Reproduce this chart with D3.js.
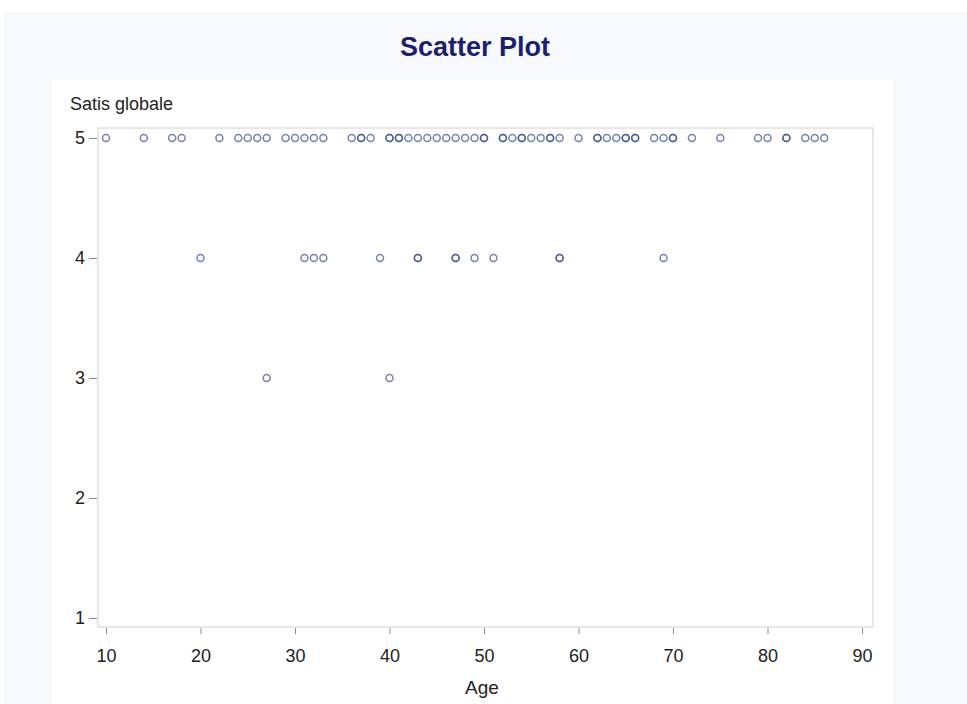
<!DOCTYPE html>
<html>
<head>
<meta charset="utf-8">
<script src="https://cdn.jsdelivr.net/npm/d3@7"></script>
<style>
  body { margin: 0; background: #fff; }
  text { font-family: "Liberation Sans", Arial, sans-serif; }
</style>
</head>
<body>
<div id="chart"></div>
<script>
// ages, one array per satisfaction level
var age5 = [10, 14, 17, 18, 22, 24, 25, 26, 27, 29, 30, 31, 32, 33, 36, 37, 37, 38,
  40, 40, 41, 41, 42, 43, 44, 45, 46, 47, 48, 49, 50, 50, 52, 52, 53, 54, 54, 55, 56,
  57, 57, 58, 60, 62, 62, 63, 64, 65, 65, 66, 66, 68, 69, 70, 70, 72, 75, 79, 80,
  82, 82, 84, 85, 86];
var age4 = [20, 31, 32, 33, 39, 43, 43, 47, 47, 49, 51, 58, 58, 69];
var age3 = [27, 40];
var xTicks = [10, 20, 30, 40, 50, 60, 70, 80, 90];
var yTicks = [1, 2, 3, 4, 5];

var points = []
  .concat(age5.map(a => ({ age: a, satis: 5 })))
  .concat(age4.map(a => ({ age: a, satis: 4 })))
  .concat(age3.map(a => ({ age: a, satis: 3 })));

var width = 967;
var height = 704;
var plot = { left: 98, right: 873, top: 128, bottom: 627 };

var svg = d3.select("#chart")
  .append("svg")
  .attr("width", width)
  .attr("height", height);

// backgrounds
svg.append("rect")
  .attr("x", 4).attr("y", 12)
  .attr("width", width - 4).attr("height", height - 12)
  .attr("fill", "#f8f9fd");
svg.append("rect")
  .attr("x", 52).attr("y", 80)
  .attr("width", 841).attr("height", height - 80)
  .attr("fill", "#ffffff");

var x = d3.scaleLinear()
  .domain([10 - 8 / 9.45, 90 + 11 / 9.45])
  .range([plot.left, plot.right]);
var y = d3.scaleLinear()
  .domain([1 - 9 / 120, 5 + 10 / 120])
  .range([plot.bottom, plot.top]);

// title
svg.append("text")
  .attr("x", 475).attr("y", 56)
  .attr("text-anchor", "middle")
  .attr("font-size", "27px")
  .attr("font-weight", "bold")
  .attr("fill", "#1c1f6e")
  .text("Scatter Plot");

// frame
svg.append("rect")
  .attr("x", plot.left).attr("y", plot.top)
  .attr("width", plot.right - plot.left)
  .attr("height", plot.bottom - plot.top)
  .attr("fill", "none")
  .attr("stroke", "#cfcfcf")
  .attr("stroke-width", 1);

// axes
var xAxis = svg.append("g")
  .attr("transform", "translate(0," + (plot.bottom + 1) + ")")
  .call(d3.axisBottom(x).tickValues(xTicks).tickSize(6).tickPadding(15).tickFormat(d3.format("d")));
var yAxis = svg.append("g")
  .attr("transform", "translate(" + (plot.left - 1) + ",0)")
  .call(d3.axisLeft(y).tickValues(yTicks).tickSize(8).tickPadding(4).tickFormat(d3.format("d")));

[xAxis, yAxis].forEach(function (g) {
  g.select(".domain").remove();
  g.selectAll(".tick line").attr("stroke", "#8a8a8a");
  g.selectAll(".tick text")
    .attr("font-size", "18px")
    .attr("fill", "#222")
    .attr("font-family", "Liberation Sans, Arial, sans-serif");
});

// axis labels
svg.append("text")
  .attr("x", 70).attr("y", 110)
  .attr("font-size", "18px")
  .attr("fill", "#222")
  .text("Satis globale");
svg.append("text")
  .attr("x", 482).attr("y", 694)
  .attr("text-anchor", "middle")
  .attr("font-size", "19px")
  .attr("fill", "#222")
  .text("Age");

// points
svg.append("g")
  .selectAll("circle")
  .data(points)
  .enter()
  .append("circle")
  .attr("cx", d => x(d.age))
  .attr("cy", d => y(d.satis))
  .attr("r", 3.5)
  .attr("fill", "none")
  .attr("stroke", "#3d4c8c")
  .attr("stroke-opacity", 0.7)
  .attr("stroke-width", 1.5);
</script>
</body>
</html>
